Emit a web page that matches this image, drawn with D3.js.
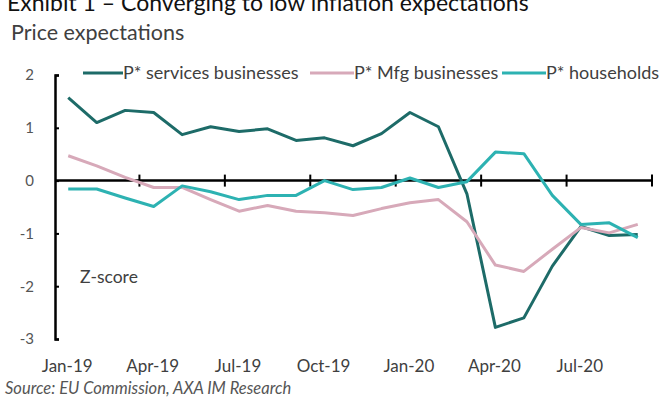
<!DOCTYPE html>
<html>
<head>
<meta charset="utf-8">
<script src="https://cdn.jsdelivr.net/npm/d3@7"></script>
<style>
  body { margin: 0; background: #fff; }
  svg text { font-family: Lato, "Open Sans", sans-serif; }
</style>
</head>
<body>
<div id="graph"></div>
<script>
var months = ["Jan-19","Feb-19","Mar-19","Apr-19","May-19","Jun-19","Jul-19","Aug-19","Sep-19","Oct-19","Nov-19","Dec-19",
              "Jan-20","Feb-20","Mar-20","Apr-20","May-20","Jun-20","Jul-20","Aug-20","Sep-20"];
var services = [1.57, 1.10, 1.33, 1.29, 0.87, 1.02, 0.93, 0.98, 0.76, 0.81, 0.66, 0.89,
                1.29, 1.02, -0.25, -2.78, -2.60, -1.62, -0.87, -1.04, -1.02];
var mfg = [0.47, 0.28, 0.06, -0.13, -0.13, -0.36, -0.58, -0.47, -0.58, -0.61, -0.66, -0.53,
           -0.42, -0.36, -0.78, -1.60, -1.72, -1.30, -0.89, -0.99, -0.83];
var households = [-0.16, -0.16, -0.33, -0.49, -0.10, -0.21, -0.36, -0.28, -0.28, 0.00, -0.17, -0.13,
                  0.05, -0.13, -0.02, 0.54, 0.51, -0.28, -0.83, -0.80, -1.08];
var yTicks = [-3, -2, -1, 0, 1, 2];
var xLabels = ["Jan-19","Apr-19","Jul-19","Oct-19","Jan-20","Apr-20","Jul-20"];

var series = [
  {name: "P* services businesses", values: services, color: "#1d6b68"},
  {name: "P* Mfg businesses", values: mfg, color: "#d7a9b9"},
  {name: "P* households", values: households, color: "#2db2b2"}
];

var width = 667, height = 401;

var svg = d3.select('#graph')
  .append('svg')
  .attr('width', width)
  .attr('height', height);

var x = d3.scaleBand().domain(months).range([54, 652]).padding(0);
var xEdge = d3.scaleLinear().domain([0, months.length]).range([54, 652]);
var y = d3.scaleLinear().domain([-3, 2]).range([339, 75]);

// titles (top one is cropped in the source image)
svg.append('text').attr('x', 7).attr('y', 11)
  .attr('font-size', 23).attr('fill', '#111')
  .text('Exhibit 1 \u2013 Converging to low inflation expectations');
svg.append('text').attr('x', 11).attr('y', 40)
  .attr('font-size', 21.5).attr('fill', '#404040')
  .text('Price expectations');

// y axis
var yAxis = svg.append('g')
  .attr('transform', 'translate(55,0)')
  .call(d3.axisLeft(y).tickValues(yTicks).tickSize(-4).tickPadding(21)
    .tickFormat(function(d){ return String(d); }));
yAxis.select('.domain').attr('stroke', '#000').attr('stroke-width', 2.5);
yAxis.selectAll('.tick line').attr('stroke', '#000').attr('stroke-width', 2);
yAxis.selectAll('.tick text').attr('font-size', 15).attr('fill', '#555')
  .attr('font-family', 'Lato, sans-serif');

// x axis at zero
var x0 = y(0);
svg.append('line')
  .attr('x1', 55).attr('x2', xEdge(months.length))
  .attr('y1', x0).attr('y2', x0)
  .attr('stroke', '#000').attr('stroke-width', 2.5);
svg.selectAll('.xtick')
  .data(d3.range(3, months.length + 1, 3))
  .enter().append('line')
  .attr('class', 'xtick')
  .attr('x1', function(d){ return xEdge(d); })
  .attr('x2', function(d){ return xEdge(d); })
  .attr('y1', x0 - 6).attr('y2', x0 + 6)
  .attr('stroke', '#000').attr('stroke-width', 2);

svg.selectAll('.xlabel')
  .data(xLabels)
  .enter().append('text')
  .attr('class', 'xlabel')
  .attr('x', function(d){ return x(d) + x.bandwidth() / 2 - 1; })
  .attr('y', 372)
  .attr('text-anchor', 'middle')
  .attr('font-size', 17).attr('fill', '#404040')
  .text(function(d){ return d; });

// lines
var line = d3.line()
  .x(function(d, i){ return x(months[i]) + x.bandwidth() / 2; })
  .y(function(d){ return y(d); });

svg.selectAll('.series')
  .data(series)
  .enter().append('path')
  .attr('class', 'series')
  .attr('d', function(d){ return line(d.values); })
  .attr('fill', 'none')
  .attr('stroke', function(d){ return d.color; })
  .attr('stroke-width', 3)
  .attr('stroke-linejoin', 'round');

// legend
var legendX = [83, 310, 502];
var leg = svg.selectAll('.leg')
  .data(series)
  .enter().append('g')
  .attr('class', 'leg')
  .attr('transform', function(d, i){ return 'translate(' + legendX[i] + ',73)'; });
leg.append('line').attr('x1', 0).attr('x2', function(d, i){ return i === 0 ? 40 : 44; })
  .attr('y1', 0).attr('y2', 0)
  .attr('stroke', function(d){ return d.color; }).attr('stroke-width', 3);
leg.append('text').attr('x', function(d, i){ return i === 0 ? 40 : 44; }).attr('y', 6)
  .attr('font-size', 18).attr('fill', '#404040')
  .text(function(d){ return d.name; });

// annotations
svg.append('text').attr('x', 80).attr('y', 283)
  .attr('font-size', 17.5).attr('fill', '#404040')
  .text('Z-score');
svg.append('text').attr('x', 5).attr('y', 394)
  .attr('font-size', 16.5).attr('font-style', 'italic').attr('fill', '#555')
  .text('Source: EU Commission, AXA IM Research');
</script>
</body>
</html>
